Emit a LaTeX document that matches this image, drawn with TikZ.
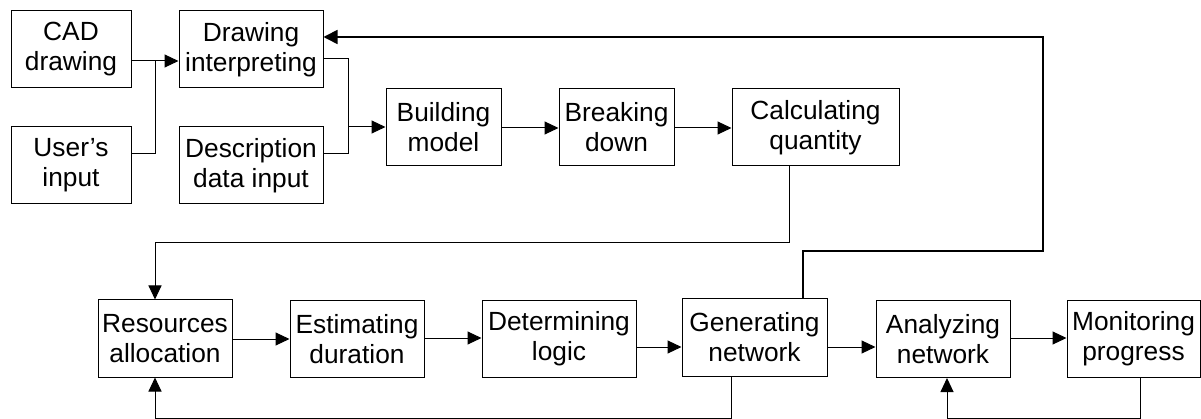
\documentclass[tikz,border=0pt]{standalone}
\usepackage{fontspec}
\setmainfont{Liberation Sans}
\usetikzlibrary{arrows.meta}
\begin{document}
\begin{tikzpicture}[x=1pt,y=-1pt,
  box/.style={draw, line width=1pt, minimum height=77pt, inner sep=0pt,
    align=center, font=\fontsize{26.3}{30}\selectfont},
  link/.style={line width=1pt},
  arr/.style={link,-{Triangle[length=14pt,width=13pt]}},
  loopback/.style={line width=1.6pt,-{Triangle[length=14pt,width=14pt]}}]
\useasboundingbox (0,0) rectangle (1201,419);

% upper chain
\node[box, minimum width=120pt] (cad)    at (71,49.5)    {CAD\\drawing};
\node[box, minimum width=120pt] (user)   at (71,165.5)   {User’s\\input};
\node[box, minimum width=144pt] (interp) at (251,49.5)   {Drawing\\interpreting};
\node[box, minimum width=144pt] (desc)   at (251,165.5)  {Description\\data input};
\node[box, minimum width=115pt] (build)  at (443.5,127.5) {Building\\model};
\node[box, minimum width=115pt] (brk)    at (616.5,127.5) {Breaking\\down};
\node[box, minimum width=167pt] (calc)   at (815.5,127.5) {Calculating\\quantity};

% lower chain
\node[box, minimum width=134pt] (res) at (165,338.5)  {Resources\\allocation};
\node[box, minimum width=134pt] (est) at (357,339)    {Estimating\\duration};
\node[box, minimum width=154pt] (det) at (559,339)    {Determining\\logic};
\node[box, minimum width=145pt] (gen) at (754.5,337.5) {Generating\\network};
\node[box, minimum width=134pt] (ana) at (943,339)    {Analyzing\\network};
\node[box, minimum width=133pt] (mon) at (1133.5,339) {Monitoring\\progress};

% merging inputs
\coordinate (j1) at (155,61);
\coordinate (j2) at (348,127);
\draw[arr]  (cad.east |- j1) -- (interp.west |- j1);
\draw[link] (user.east |- 0,154) -| (j1);
\draw[link] (interp.east |- 0,59) -| (j2);
\draw[link] (desc.east |- 0,154) -| (j2);
\draw[arr]  (j2) -- (build.west |- j2);
\draw[arr]  (build.east |- 0,128) -- (brk.west |- 0,128);
\draw[arr]  (brk.east |- 0,128) -- (calc.west |- 0,128);

% from quantities down to resources
\draw[arr] (calc.south -| 789,0) -- (789,243) -| (res.north -| 155,0);

% lower flow
\draw[arr] (res.east |- 0,339) -- (est.west |- 0,339);
\draw[arr] (est.east |- 0,338) -- (det.west |- 0,338);
\draw[arr] (det.east |- 0,347) -- (gen.west |- 0,347);
\draw[arr] (gen.east |- 0,347) -- (ana.west |- 0,347);
\draw[arr] (ana.east |- 0,338) -- (mon.west |- 0,338);

% feedback loops
\draw[loopback] (gen.north -| 803,0) |- (1043,251) |- (interp.east |- 0,37);
\draw[arr] (gen.south -| 731,0) -- (731,418) -| (res.south -| 155,0);
\draw[arr] (mon.south -| 1140,0) -- (1140,418) -| (ana.south -| 947,0);
\end{tikzpicture}
\end{document}
